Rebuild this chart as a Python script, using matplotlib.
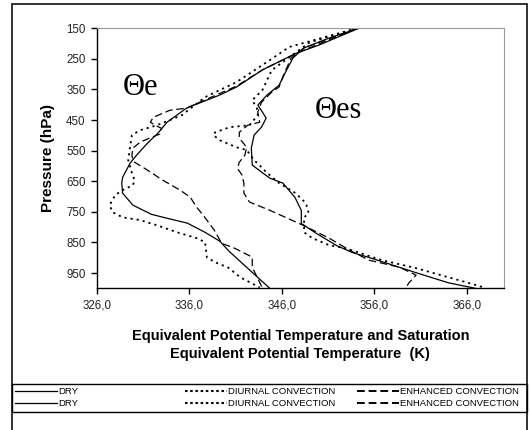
import numpy as np
import matplotlib
matplotlib.use('Agg')
from matplotlib import pyplot as plt
from matplotlib.lines import Line2D
from matplotlib.patches import Rectangle

plt.rcParams['font.family'] = ['Liberation Sans', 'DejaVu Sans']

# theta-e profiles (K) vs pressure (hPa)
the_dry_t = [354.3, 350.0, 347.6, 343.9, 341.1, 339.3, 335.7, 333.6, 332.6, 331.5, 330.3, 329.6,
             328.8, 328.7, 328.8, 329.9, 331.9, 333.6, 335.8, 337.7, 339.3, 340.3, 342.8, 344.7]
the_dry_p = [150, 205, 231, 286, 342, 368, 411, 457, 493, 525, 565, 591,
             637, 656, 689, 728, 758, 771, 787, 817, 846, 879, 948, 1000]

the_diu_t = [354.1, 346.8, 344.7, 341.1, 337.7, 335.2, 332.5, 330.7, 329.8, 329.6, 329.4, 329.8,
             330.1, 329.9, 328.8, 328.0, 327.4, 327.7, 328.8, 330.7, 332.5, 334.7, 336.8, 337.7,
             337.9, 338.8, 340.2, 341.5, 343.6]
the_diu_p = [150, 211, 254, 326, 375, 434, 467, 483, 499, 539, 581, 623,
             647, 663, 679, 695, 728, 751, 768, 777, 794, 817, 836, 849,
             899, 915, 932, 964, 997]

the_enh_t = [354.1, 347.6, 343.9, 341.1, 337.1, 335.7, 333.9, 332.1, 331.8, 332.3, 333.0, 332.8,
             331.7, 330.7, 329.9, 329.8, 329.9, 330.1, 331.5, 333.1, 335.0, 336.1, 336.8, 337.5,
             338.7, 339.5, 340.9, 342.8, 342.8, 343.6, 343.9]
the_enh_p = [150, 231, 286, 339, 392, 411, 418, 441, 457, 467, 477, 496,
             509, 522, 542, 565, 581, 588, 614, 646, 679, 702, 735, 761,
             810, 853, 869, 898, 931, 980, 1000]

# saturation theta-es profiles
thes_dry_t = [354.3, 351.1, 348.4, 347.2, 346.5, 345.7, 344.4, 343.4, 343.9, 344.3, 343.8, 343.0,
              342.7, 342.8, 343.8, 344.7, 346.1, 347.4, 348.1, 348.1, 349.7, 351.9, 353.6, 355.4,
              360.5, 364.0, 366.9]
thes_dry_p = [150, 182, 214, 247, 287, 336, 368, 401, 424, 444, 473, 499,
              542, 597, 620, 640, 656, 702, 745, 788, 820, 860, 883, 899,
              949, 982, 1000]

thes_diu_t = [354.1, 349.0, 344.9, 343.9, 342.8, 343.3, 343.4, 342.5, 340.4, 338.8, 338.6, 339.3,
              341.1, 342.2, 343.0, 343.8, 344.3, 345.7, 347.5, 348.6, 348.9, 348.4, 348.4, 349.3,
              351.1, 352.9, 356.8, 360.5, 364.0, 365.9, 367.8]
thes_diu_p = [150, 196, 287, 352, 385, 411, 434, 467, 473, 490, 499, 516,
              539, 548, 581, 604, 620, 656, 689, 722, 755, 768, 817, 836,
              859, 869, 908, 934, 964, 980, 997]

thes_enh_t = [354.1, 348.4, 347.0, 346.1, 345.7, 344.9, 343.8, 343.4, 343.6, 342.3, 341.4, 341.4,
              342.2, 342.0, 341.4, 341.2, 341.7, 341.9, 341.9, 342.5, 344.7, 348.3, 351.1, 353.3,
              355.4, 358.7, 360.5, 359.7, 359.4]
thes_enh_p = [150, 214, 247, 309, 342, 359, 392, 424, 457, 467, 490, 509,
              539, 565, 588, 608, 630, 656, 689, 718, 745, 794, 836, 875,
              908, 931, 957, 983, 1000]

x_ticks = [326, 336, 346, 356, 366]
y_ticks = [150, 250, 350, 450, 550, 650, 750, 850, 950]
legend_names = ['DRY', 'DIURNAL CONVECTION', 'ENHANCED CONVECTION']

dot = (0, (1.2, 2.2))
dash = (0, (6, 3))

fig = plt.figure(figsize=(5.3, 4.3), dpi=100)
ax = fig.add_axes([0.1825, 0.3295, 0.7685, 0.6047])

ax.plot(the_dry_t, the_dry_p, color='black', lw=0.9)
ax.plot(the_diu_t, the_diu_p, color='black', lw=1.3, linestyle=dot)
ax.plot(the_enh_t, the_enh_p, color='black', lw=0.9, linestyle=dash)
ax.plot(thes_dry_t, thes_dry_p, color='black', lw=0.9)
ax.plot(thes_diu_t, thes_diu_p, color='black', lw=1.3, linestyle=dot)
ax.plot(thes_enh_t, thes_enh_p, color='black', lw=0.9, linestyle=dash)

ax.set_xlim(326, 370)
ax.set_ylim(1000, 150)
ax.set_xticks(x_ticks)
ax.set_xticklabels([('%.1f' % v).replace('.', ',') for v in x_ticks])
ax.set_yticks(y_ticks)
ax.tick_params(direction='out', length=4, width=1, labelsize=8.3, pad=4, labelcolor='#222222')

for s in ['top', 'right']:
    ax.spines[s].set_color('#999999')
for s in ['left', 'bottom']:
    ax.spines[s].set_color('black')
    ax.spines[s].set_linewidth(1.0)

ax.set_ylabel('Pressure (hPa)', fontsize=11, fontweight='bold', labelpad=8)
ax.set_xlabel('Equivalent Potential Temperature and Saturation\nEquivalent Potential Temperature  (K)',
              fontsize=10.5, fontweight='bold', linespacing=1.35, labelpad=13)

ax.text(328.8, 368, '\u0398e', family='Liberation Serif', fontsize=22, va='baseline')
ax.text(349.5, 444, '\u0398es', family='Liberation Serif', fontsize=22, va='baseline')

# outer chart frame and legend box
W, H = 530.0, 430.0
fig.add_artist(Rectangle((12 / W, -0.05), 515 / W, (1 - 4 / H) + 0.05, transform=fig.transFigure,
                         fill=False, lw=1.3, edgecolor='#222222'))
fig.add_artist(Rectangle((12 / W, 1 - 412 / H), 515 / W, 28 / H, transform=fig.transFigure,
                         fill=False, lw=1.0, edgecolor='black'))

styles = [dict(lw=0.9), dict(lw=1.5, linestyle=(0, (1.2, 1.3))), dict(lw=1.4, linestyle=(0, (4, 2)))]
starts = [15, 185, 357]
for row_y in [391, 403]:
    for x0, name, st in zip(starts, legend_names, styles):
        yy = 1 - row_y / H
        fig.add_artist(Line2D([x0 / W, (x0 + 42) / W], [yy, yy], color='black',
                              transform=fig.transFigure, **st))
        fig.text((x0 + 43) / W, yy, name, fontsize=6.8, va='center', ha='left')

fig.savefig('out.png', dpi=100)
